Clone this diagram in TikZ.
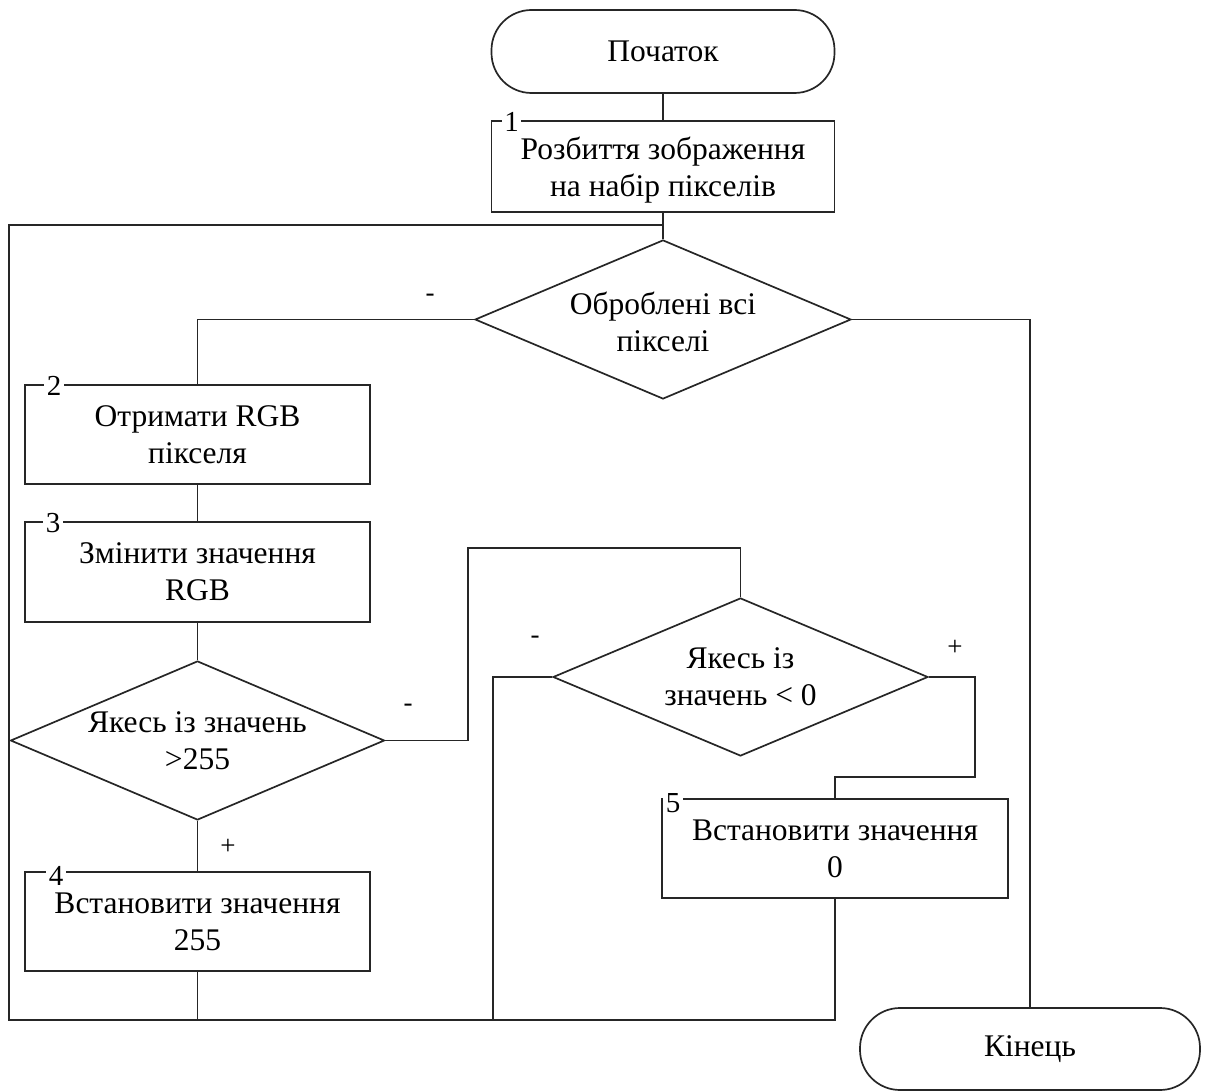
\documentclass[tikz,border=0pt]{standalone}
\usepackage{fontspec}
\setmainfont{Liberation Serif}
\usetikzlibrary{shapes.geometric}
\begin{document}
\begin{tikzpicture}[x=1pt,y=-1pt,
  every node/.style={font=\fontsize{31.5}{37}\selectfont},
  ln/.style={draw=black!85, line width=1.7pt},
  procbox/.style={ln, rectangle, inner sep=0pt, align=center},
  termbox/.style={ln, rectangle, rounded corners=40pt, inner sep=0pt, align=center},
  decbox/.style={ln, diamond, inner sep=0pt},
  txt/.style={align=center, inner sep=0pt},
  numlbl/.style={fill=white, inner xsep=2.5pt, inner ysep=0pt, font=\fontsize{29}{30}\selectfont},
  sgn/.style={inner sep=0pt, font=\fontsize{27}{28}\selectfont},
  conn/.style={ln, line join=miter}]
\useasboundingbox (0,0) rectangle (1210,1091);

% nodes
\node[termbox, minimum width=343pt, minimum height=83pt] (start) at (663,51.5) {Початок};
\node[procbox, minimum width=343pt, minimum height=91pt, text depth=0pt] (b1) at (663,166.5) {Розбиття зображення\\на набір пікселів};
\node[decbox, minimum width=376pt, minimum height=159pt] (d1) at (663,319.5) {};
\node[txt] (t1) at ([yshift=-2pt]d1.center) {Оброблені всі\\пікселі};
\node[procbox, minimum width=345pt, minimum height=99pt] (b2) at (197.5,434.5) {Отримати RGB\\пікселя};
\node[procbox, minimum width=345pt, minimum height=100pt] (b3) at (197.5,572) {Змінити значення\\RGB};
\node[decbox, minimum width=374pt, minimum height=159pt] (d2) at (197.5,740.5) {};
\node[txt] (t2) at (d2.center) {Якесь із значень\\>255};
\node[procbox, minimum width=345pt, minimum height=99pt] (b4) at (197.5,921.5) {Встановити значення\\255};
\node[decbox, minimum width=375pt, minimum height=158pt] (d3) at (740.5,677) {};
\node[txt] (t3) at (d3.center) {Якесь із\\значень < 0};
\node[procbox, minimum width=346pt, minimum height=99pt] (b5) at (835,848.5) {Встановити значення\\0};
\node[termbox, minimum width=340pt, minimum height=82pt] (end) at (1030,1049) {Кінець};

% number labels
\node[numlbl] (n1) at ([xshift=21pt,yshift=-2pt]b1.north west) {1};
\node[numlbl] (n2) at ([xshift=30pt,yshift=-2pt]b2.north west) {2};
\node[numlbl] (n3) at ([xshift=29pt,yshift=-2pt]b3.north west) {3};
\node[numlbl] (n4) at ([xshift=32pt,yshift=-5pt]b4.north west) {4};
\node[numlbl] (n5) at ([xshift=12pt,yshift=-5pt]b5.north west) {5};

% coordinates
\coordinate (jm) at (663,225);
\coordinate (jt) at (9,225);
\coordinate (jb) at (9,1020);
\coordinate (j4) at (197.5,1020);
\coordinate (j5) at (835,1020);
\coordinate (jd3) at (493,1020);
\coordinate (r2) at (468,740.5);
\coordinate (r2t) at (468,548);
\coordinate (r3) at (975,677);
\coordinate (r3b) at (975,777);

% connectors
\draw[conn] (start) -- (b1);
\draw[conn] (b1) -- (d1.north);
\draw[conn] (d1.west) -| (b2.north);
\draw[conn] (d1.east) -| (end.north);
\draw[conn] (b2) -- (b3);
\draw[conn] (b3) -- (d2.north);
\draw[conn] (d2.south) -- (b4.north);
\draw[conn] (d2.east) -- (r2) -- (r2t) -| (d3.north);
\draw[conn] (d3.east) -- (r3) -- (r3b) -| (b5.north);
\draw[conn] (d3.west) -| (jd3);
\draw[conn] (b4.south) -- (j4);
\draw[conn] (b5.south) -- (j5) -- (jb) -- (jt) -- (jm);

% branch signs
\node[sgn] (s1) at (430,298) {-};
\node[sgn] (s2) at (408,708) {-};
\node[sgn] (s3) at (228,847) {+};
\node[sgn] (s4) at (535,640) {-};
\node[sgn] (s5) at (955,648) {+};
\end{tikzpicture}
\end{document}
